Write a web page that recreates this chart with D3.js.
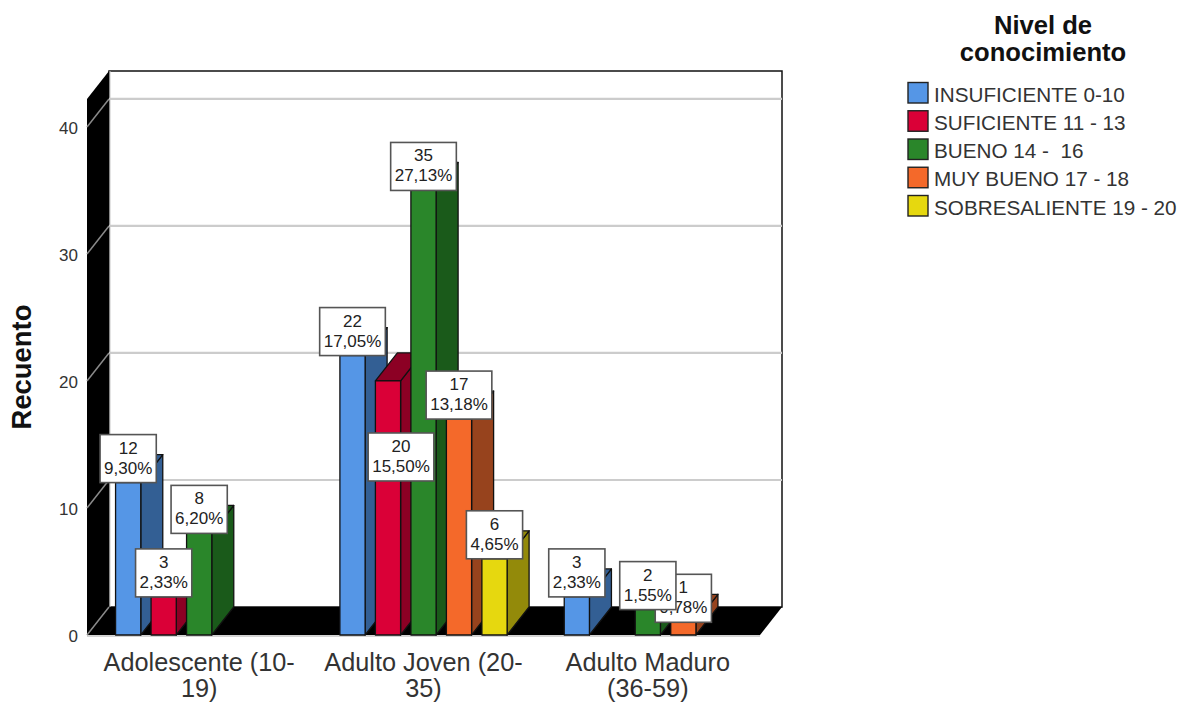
<!DOCTYPE html>
<html lang="es">
<head>
<meta charset="utf-8">
<title>Nivel de conocimiento por grupo de edad</title>
<script src="https://cdn.jsdelivr.net/npm/d3@7/dist/d3.min.js"></script>
<style>
  html, body { margin: 0; padding: 0; background: #fff; }
  svg { display: block; }
  text { font-family: "Liberation Sans", Arial, sans-serif; }
</style>
</head>
<body>
<svg id="chart" width="1186" height="702"></svg>
<script>
// Counts per age group and knowledge level; null means the combination has no bar.
const groups = ["Adolescente (10-19)", "Adulto Joven (20-35)", "Adulto Maduro (36-59)"];
const groupLines = [["Adolescente (10-", "19)"], ["Adulto Joven (20-", "35)"], ["Adulto Maduro", "(36-59)"]];
const levels = ["INSUFICIENTE 0-10", "SUFICIENTE 11 - 13", "BUENO 14 -  16", "MUY BUENO 17 - 18", "SOBRESALIENTE 19 - 20"];
const insuficiente = [12, 22, 3];
const suficiente = [3, 20, null];
const bueno = [8, 35, 2];
const muyBueno = [null, 17, 1];
const sobresaliente = [null, 6, null];
const seriesValues = [insuficiente, suficiente, bueno, muyBueno, sobresaliente];
const frontColors = ["#5596e6", "#da0037", "#2a862a", "#f4692a", "#e6d80f"];
const sideColors = ["#335f94", "#8c0024", "#1a5a1a", "#97431d", "#938a0a"];
const yTicks = [0, 10, 20, 30, 40];

const svg = d3.select("#chart");

// Oblique projection: the back plane sits up and to the right of the front plane.
const depthX = 22, depthY = -28;
const left = 87, right = 760, base = 635, topFront = 99;

const x = d3.scaleBand().domain(groups).range([left, right]);
const xInner = d3.scaleBand().domain(levels).range([-83.6, 83.6]).paddingInner(0.29);
const y = d3.scaleLinear().domain([0, 42.2]).range([base, topFront]);

const pts = arr => arr.map(p => p.join(",")).join(" ");

// Back wall with its border
svg.append("rect")
  .attr("x", left + depthX).attr("y", topFront + depthY)
  .attr("width", right - left).attr("height", base - topFront)
  .attr("fill", "#fff").attr("stroke", "#111").attr("stroke-width", 1.5);

// Gridlines across the back wall
svg.append("g").selectAll("line").data(yTicks.slice(1)).join("line")
  .attr("x1", left + depthX).attr("x2", right + depthX)
  .attr("y1", d => y(d) + depthY).attr("y2", d => y(d) + depthY)
  .attr("stroke", "#cccccc").attr("stroke-width", 2.2);

// Left wall and floor
svg.append("polygon")
  .attr("points", pts([[left, topFront], [left + depthX, topFront + depthY], [left + depthX, base + depthY], [left, base]]))
  .attr("fill", "#000");
svg.append("polygon")
  .attr("points", pts([[left, base], [right, base], [right + depthX, base + depthY], [left + depthX, base + depthY]]))
  .attr("fill", "#000");
svg.append("line")
  .attr("x1", left + depthX + 1).attr("x2", left + depthX + 1)
  .attr("y1", topFront + depthY).attr("y2", base + depthY)
  .attr("stroke", "#c8c8c8").attr("stroke-width", 1);
svg.append("line")
  .attr("x1", left).attr("x2", right).attr("y1", base + 1).attr("y2", base + 1)
  .attr("stroke", "#a8a8a8").attr("stroke-width", 1);

// Gridlines continue diagonally over the left wall
svg.append("g").selectAll("line").data(yTicks).join("line")
  .attr("x1", left).attr("x2", left + depthX)
  .attr("y1", d => y(d)).attr("y2", d => y(d) + depthY)
  .attr("stroke", "#8a8a8a").attr("stroke-width", 1.5);

// Value axis
const yAxis = svg.append("g")
  .attr("transform", `translate(${left - 9},0)`)
  .call(d3.axisLeft(y).tickValues(yTicks).tickSize(0).tickPadding(0));
yAxis.select(".domain").remove();
yAxis.selectAll("text")
  .attr("font-size", 17).attr("fill", "#333").attr("dy", "0.38em")
  .style("font-family", "'Liberation Sans', Arial, sans-serif");

// Category axis with two-line labels
const xAxis = svg.append("g")
  .attr("transform", `translate(0,${base})`)
  .call(d3.axisBottom(x).tickSize(0).tickFormat(""));
xAxis.select(".domain").remove();
xAxis.selectAll(".tick text").each(function (d, i) {
  d3.select(this)
    .attr("font-size", 25.3).attr("fill", "#333").attr("text-anchor", "middle").attr("y", 0).attr("dy", null)
    .style("font-family", "'Liberation Sans', Arial, sans-serif")
    .selectAll("tspan").data(groupLines[i]).join("tspan")
    .attr("x", 0).attr("y", (l, k) => 36 + k * 25.5).text(l => l);
});

// Flatten the series into one record per drawn bar
const bars = [];
groups.forEach((g, gi) => levels.forEach((l, li) => {
  const value = seriesValues[li][gi];
  if (value !== null) bars.push({ group: g, level: l, li, gi, value });
}));
const total = d3.sum(bars, d => d.value);
const percent = d3.formatLocale({ decimal: ",", thousands: ".", grouping: [3], currency: ["", ""] }).format(".2f");

const barLeft = d => x(d.group) + x.bandwidth() / 2 + xInner(d.level);
const barWidth = xInner.bandwidth();

// Each bar: side face, top face, then the front face
const barG = svg.append("g").selectAll("g").data(bars).join("g")
  .attr("stroke", "#111").attr("stroke-width", 1.3).attr("stroke-linejoin", "round");
barG.append("polygon")
  .attr("points", d => {
    const r = barLeft(d) + barWidth, t = y(d.value);
    return pts([[r, t], [r + depthX, t + depthY], [r + depthX, base + depthY], [r, base]]);
  })
  .attr("fill", d => sideColors[d.li]);
barG.append("polygon")
  .attr("points", d => {
    const l = barLeft(d), r = l + barWidth, t = y(d.value);
    return pts([[l, t], [r, t], [r + depthX, t + depthY], [l + depthX, t + depthY]]);
  })
  .attr("fill", d => sideColors[d.li]);
barG.append("rect")
  .attr("x", barLeft).attr("y", d => y(d.value))
  .attr("width", barWidth).attr("height", d => base - y(d.value))
  .attr("fill", d => frontColors[d.li]);

// The one callout moved clear of its neighbours onto the bar's body
const calloutShift = d => (d.li === 1 && d.gi === 1) ? { dx: 13, dy: 100 } : { dx: 0, dy: 0 };

// Count and share callouts, stacked so earlier levels sit on top
const labelOrder = bars.slice().sort((a, b) => a.gi - b.gi || b.li - a.li);
const labels = svg.append("g").selectAll("g").data(labelOrder).join("g")
  .attr("transform", d => {
    const s = calloutShift(d);
    return `translate(${barLeft(d) + barWidth / 2 + s.dx},${y(d.value) + s.dy})`;
  });
const boxRect = labels.append("rect")
  .attr("y", -48).attr("height", 48)
  .attr("fill", "#fff").attr("stroke", "#555").attr("stroke-width", 1.6);
labels.append("text").attr("y", -29).attr("text-anchor", "middle")
  .attr("font-size", 17).attr("fill", "#222").text(d => d.value);
labels.append("text").attr("class", "pct").attr("y", -9).attr("text-anchor", "middle")
  .attr("font-size", 17).attr("fill", "#222").text(d => percent(d.value / total * 100) + "%");
boxRect.each(function () {
  const w = d3.select(this.parentNode).select(".pct").node().getComputedTextLength() + 8;
  d3.select(this).attr("x", -w / 2).attr("width", w);
});

// Legend
const legend = svg.append("g");
legend.append("text").attr("text-anchor", "middle").attr("font-size", 25.6).attr("font-weight", "bold").attr("fill", "#111")
  .selectAll("tspan").data(["Nivel de", "conocimiento"]).join("tspan")
  .attr("x", 1043).attr("y", (d, i) => 34 + i * 27).text(d => d);
const row = d3.scalePoint().domain(levels).range([92.5, 205.5]);
const item = legend.selectAll(".item").data(levels).join("g").attr("class", "item")
  .attr("transform", d => `translate(908,${row(d)})`);
item.append("rect").attr("x", 0).attr("y", -10).attr("width", 20).attr("height", 20.5)
  .attr("fill", (d, i) => frontColors[i]).attr("stroke", "#222").attr("stroke-width", 1.4);
item.append("text").attr("x", 26).attr("y", 9).attr("font-size", 20.7).attr("fill", "#333")
  .style("white-space", "pre").text(d => d);

// Value axis title
svg.append("text")
  .attr("transform", "translate(31,367) rotate(-90)")
  .attr("text-anchor", "middle").attr("font-size", 27.4).attr("font-weight", "bold").attr("fill", "#111")
  .text("Recuento");
</script>
</body>
</html>
